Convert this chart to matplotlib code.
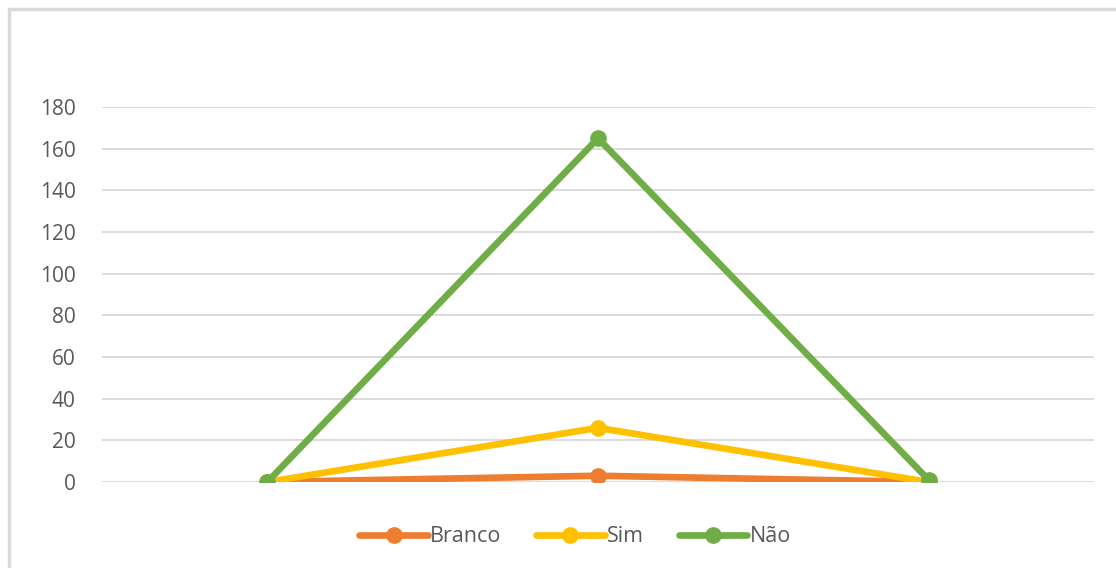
import matplotlib.pyplot as plt
from matplotlib.patches import Rectangle

plt.rcParams['font.family'] = ['Open Sans', 'DejaVu Sans']

categories = ["", "", ""]
branco = [0, 3, 0]
sim = [0, 26, 0]
nao = [0, 165, 1]

series = [("Branco", branco, "#ED7D31"),
          ("Sim", sim, "#FFC000"),
          ("Não", nao, "#70AD47")]

fig = plt.figure(figsize=(11.16, 5.68), dpi=100)
ax = fig.add_axes([102 / 1116, 1 - 482 / 568, 992 / 1116, 375 / 568])

x = range(len(categories))
for i, (name, vals, color) in enumerate(series):
    ax.plot(x, vals, color=color, lw=4.8, marker="o", ms=11,
            solid_capstyle="round", label=name, zorder=3 + i)

ax.set_xlim(-0.5, 2.5)
ax.set_ylim(0, 180)
ax.set_yticks(range(0, 181, 20))
ax.set_xticks([])
ax.grid(axis="y", color="#d9d9d9", lw=1.3)
ax.set_axisbelow(True)
for s in ax.spines.values():
    s.set_visible(False)
ax.tick_params(axis="y", length=0, pad=19, labelsize=15, labelcolor="#595959")

leg = fig.legend(loc="center", bbox_to_anchor=(575 / 1116, 1 - 537 / 568),
                 ncol=3, frameon=False, fontsize=15.5, handlelength=3.2,
                 handletextpad=0.1, columnspacing=1.6)
for t in leg.get_texts():
    t.set_color("#595959")

# chart frame
fig.add_artist(Rectangle((9 / 1116, -0.05), 1.2, 1 - 9 / 568 + 0.05,
                         transform=fig.transFigure, fill=False,
                         edgecolor="#d9d9d9", lw=2.5))

fig.savefig("out.png", dpi=100, facecolor="white")
